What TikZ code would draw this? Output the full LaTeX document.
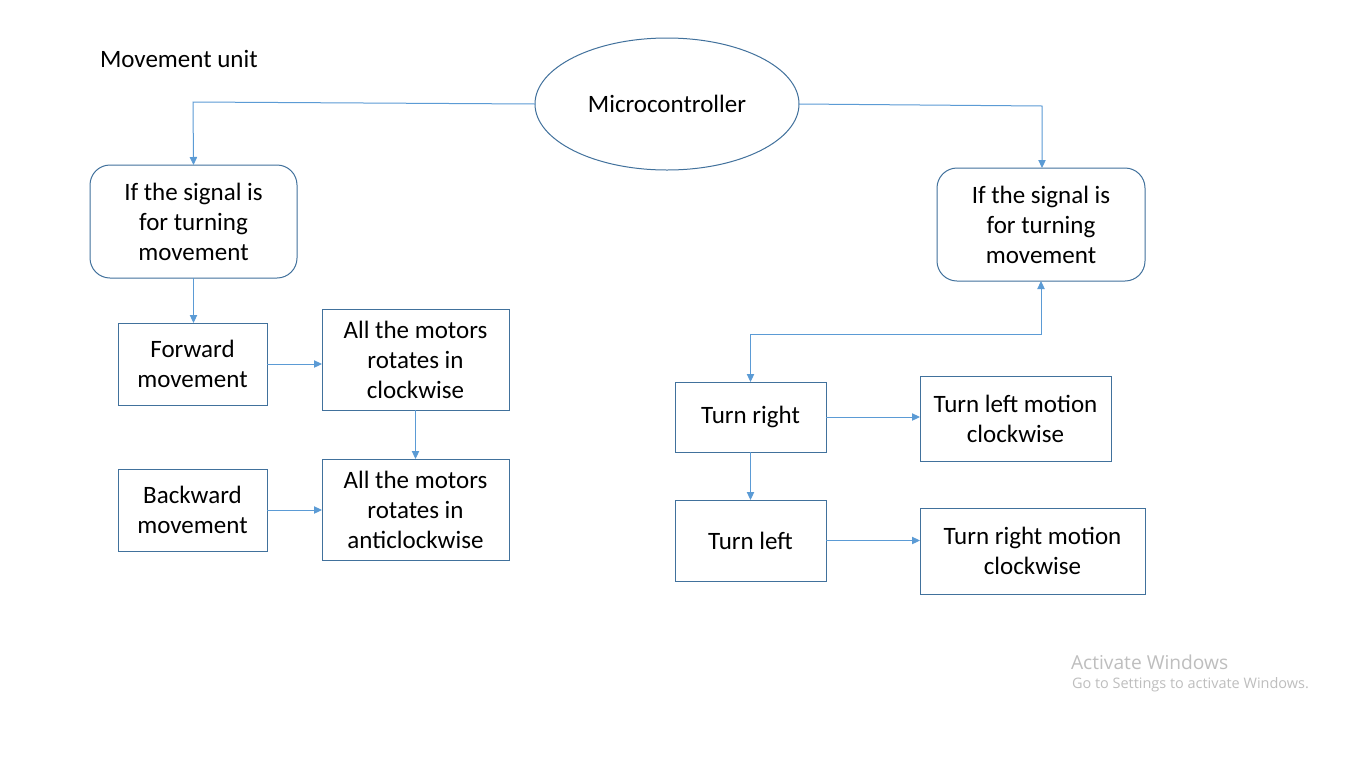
\documentclass[tikz,border=0pt]{standalone}
\usepackage{fontspec}
\setmainfont{Carlito}
\newfontfamily\wmfont{Open Sans}
\usetikzlibrary{shapes.geometric,arrows.meta}
\definecolor{boxline}{HTML}{41719C}
\definecolor{arrline}{HTML}{5B9BD5}
\definecolor{wmgray}{HTML}{BEBEBE}
\begin{document}
\begin{tikzpicture}[x=0.75pt,y=-0.75pt,
  every node/.style={font=\fontsize{18.75}{22.5}\selectfont, text=black, inner sep=0pt, outer sep=0pt, align=center},
  sq/.style={draw=boxline, line width=0.75pt, rectangle},
  rbox/.style={draw=boxline, line width=0.75pt, rectangle, rounded corners=15pt},
  conn/.style={draw=arrline, line width=0.75pt, -{Triangle[width=5.5pt,length=6pt]}},
  dconn/.style={draw=arrline, line width=0.75pt, {Triangle[width=5.5pt,length=6pt]}-{Triangle[width=5.5pt,length=6pt]}}
]
\useasboundingbox[fill=white] (0,0) rectangle (1366,768);

\node[anchor=west] (title) at (100,59) {Movement unit};
\node[ellipse, draw=boxline, line width=0.75pt, minimum width=198pt, minimum height=99pt] (mc) at (667,104) {Microcontroller};

\node[rbox, minimum width=155.25pt, minimum height=84.75pt] (lsig) at (193.5,221.5) {If the signal is\\for turning\\movement};
\node[rbox, minimum width=156pt, minimum height=84.75pt] (rsig) at (1041,224.5) {If the signal is\\for turning\\movement};

\node[sq, minimum width=111.75pt, minimum height=61.5pt] (fwd) at (192.5,364) {Forward\\movement};
\node[sq, minimum width=140.25pt, minimum height=75.75pt] (cw) at (415.5,359.5) {All the motors\\rotates in\\clockwise};
\node[sq, minimum width=111.75pt, minimum height=61.5pt] (bwd) at (192.5,510) {Backward\\movement};
\node[sq, minimum width=140.25pt, minimum height=75.75pt] (acw) at (415.5,509.5) {All the motors\\rotates in\\anticlockwise};

\node[sq, minimum width=113.25pt, minimum height=52.5pt] (tr) at (750.5,417) {\raisebox{-2pt}{Turn right}};
\node[sq, minimum width=143.25pt, minimum height=63.75pt] (tlm) at (1015.5,418.5) {Turn left motion\\clockwise};
\node[sq, minimum width=113.25pt, minimum height=60.75pt] (tl) at (750.5,540.5) {Turn left};
\node[sq, minimum width=168.75pt, minimum height=64.5pt] (trm) at (1032.5,551) {Turn right motion\\clockwise};

\node[anchor=west, font=\wmfont\fontsize{14.4}{17}\selectfont, text=wmgray] (wm1) at (1071,662) {Activate Windows};
\node[anchor=west, font=\wmfont\fontsize{10.85}{13}\selectfont, text=wmgray] (wm2) at (1072,685) {Go to Settings to activate Windows.};

\coordinate (lc) at (193,102);
\coordinate (rc) at (1042,106);
\coordinate (mid) at (1041,334);

\draw[conn] (mc.west) -- (lc) -- (lsig.north);
\draw[conn] (mc.east) -- (rc) -- (rsig.north -| rc);
\draw[conn] (lsig.south) -- (fwd.north -| lsig.south);
\draw[conn] (fwd.east) -- (fwd.east -| cw.west);
\draw[conn] (cw.south) -- (acw.north);
\draw[conn] (bwd.east) -- (bwd.east -| acw.west);
\draw[dconn] (rsig.south) |- (mid -| tr.north) -- (tr.north);
\draw[conn] (tr.east) -- (tr.east -| tlm.west);
\draw[conn] (tr.south) -- (tl.north);
\draw[conn] (tl.east) -- (tl.east -| trm.west);
\end{tikzpicture}
\end{document}
